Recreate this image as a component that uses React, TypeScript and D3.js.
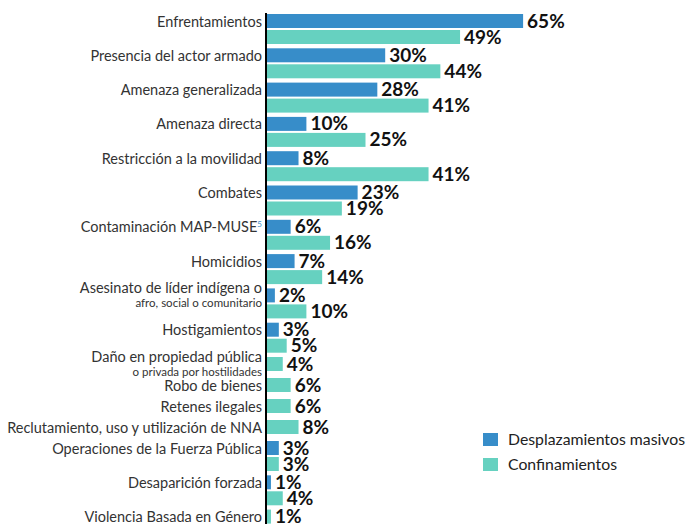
import React, { useEffect, useRef } from 'react';
import * as d3 from 'd3';

// categorías (línea principal y segunda línea opcional)
const categories = [
  'Enfrentamientos',
  'Presencia del actor armado',
  'Amenaza generalizada',
  'Amenaza directa',
  'Restricción a la movilidad',
  'Combates',
  'Contaminación MAP-MUSE',
  'Homicidios',
  'Asesinato de líder indígena o',
  'Hostigamientos',
  'Daño en propiedad pública',
  'Robo de bienes',
  'Retenes ilegales',
  'Reclutamiento, uso y utilización de NNA',
  'Operaciones de la Fuerza Pública',
  'Desaparición forzada',
  'Violencia Basada en Género',
];
const subLabels: (string | null)[] = [
  null, null, null, null, null, null, null, null,
  'afro, social o comunitario', null,
  'o privada por hostilidades',
  null, null, null, null, null, null,
];

// % por serie (null = sin barra)
const desplazamientos: (number | null)[] = [65, 30, 28, 10, 8, 23, 6, 7, 2, 3, null, null, null, null, 3, 1, null];
const confinamientos: (number | null)[] = [49, 44, 41, 25, 41, 19, 16, 14, 10, 5, 4, 6, 6, 8, 3, 4, 1];

const seriesNames = ['Desplazamientos masivos', 'Confinamientos'];
const seriesColors = ['#378dc9', '#66d1c0'];

const W = 688;
const H = 524;

const Chart = () => {
  const ref = useRef<SVGSVGElement>(null);

  useEffect(() => {
    if (!ref.current) return;
    const svg = d3.select(ref.current);
    svg.selectAll('*').remove();

    const x0 = 267;
    const x = d3.scaleLinear().domain([0, 100]).range([x0, x0 + 394]);
    const barH = 14, barStep = 16, pairGap = 2.3, singleBand = 21;

    // posiciones verticales de cada categoría
    type Bar = { cat: number; s: number; v: number; y: number };
    const bars: Bar[] = [];
    const catTop: number[] = [];
    let yc = 14;
    categories.forEach((_, i) => {
      catTop.push(yc);
      const vals = [desplazamientos[i], confinamientos[i]];
      let n = 0;
      vals.forEach((v, s) => {
        if (v == null) return;
        bars.push({ cat: i, s, v, y: yc + n * barStep });
        n++;
      });
      yc += n === 1 ? singleBand : n * barStep + pairGap;
    });

    const font = 'Lato, "Open Sans", sans-serif';

    svg.append('g')
      .selectAll('rect')
      .data(bars)
      .enter().append('rect')
      .attr('x', x0)
      .attr('y', d => d.y)
      .attr('width', d => x(d.v) - x0)
      .attr('height', barH)
      .attr('fill', d => seriesColors[d.s]);

    svg.append('g')
      .selectAll('text')
      .data(bars)
      .enter().append('text')
      .attr('x', d => x(d.v) + 4)
      .attr('y', d => d.y + 13.5)
      .attr('font-family', font)
      .attr('font-weight', 700)
      .attr('font-size', 19)
      .attr('fill', '#111')
      .text(d => d.v + '%');

    // eje vertical
    svg.append('line')
      .attr('x1', x0 - 1).attr('x2', x0 - 1)
      .attr('y1', 13).attr('y2', H)
      .attr('stroke', '#000')
      .attr('stroke-width', 2);

    // etiquetas de categoría
    const lab = svg.append('g')
      .attr('font-family', font)
      .attr('fill', '#333')
      .attr('text-anchor', 'end');

    categories.forEach((c, i) => {
      const top = catTop[i];
      const sub = subLabels[i];
      const t = lab.append('text')
        .attr('x', 262)
        .attr('y', sub ? top + 5 : top + 12.5)
        .attr('font-size', 14.5)
        .text(c);
      if (c === 'Contaminación MAP-MUSE') {
        t.append('tspan')
          .attr('dy', -5)
          .attr('font-size', 8)
          .attr('fill', seriesColors[0])
          .text('5');
      }
      if (sub) {
        lab.append('text')
          .attr('x', 262)
          .attr('y', top + 19)
          .attr('font-size', 11.5)
          .text(sub);
      }
    });

    // leyenda
    const lg = svg.append('g').attr('font-family', font);
    seriesNames.forEach((name, i) => {
      lg.append('rect')
        .attr('x', 483).attr('y', 433 + i * 25)
        .attr('width', 15).attr('height', 13)
        .attr('fill', seriesColors[i]);
      lg.append('text')
        .attr('x', 508).attr('y', 445 + i * 25)
        .attr('font-size', 15.8)
        .attr('fill', '#222')
        .text(name);
    });
  }, []);

  return <svg ref={ref} width={W} height={H} style={{ display: 'block' }} />;
};

export default function App() {
  return (
    <div style={{ position: 'absolute', left: 0, top: 0, width: W, height: H, background: '#fff' }}>
      <Chart />
    </div>
  );
}
